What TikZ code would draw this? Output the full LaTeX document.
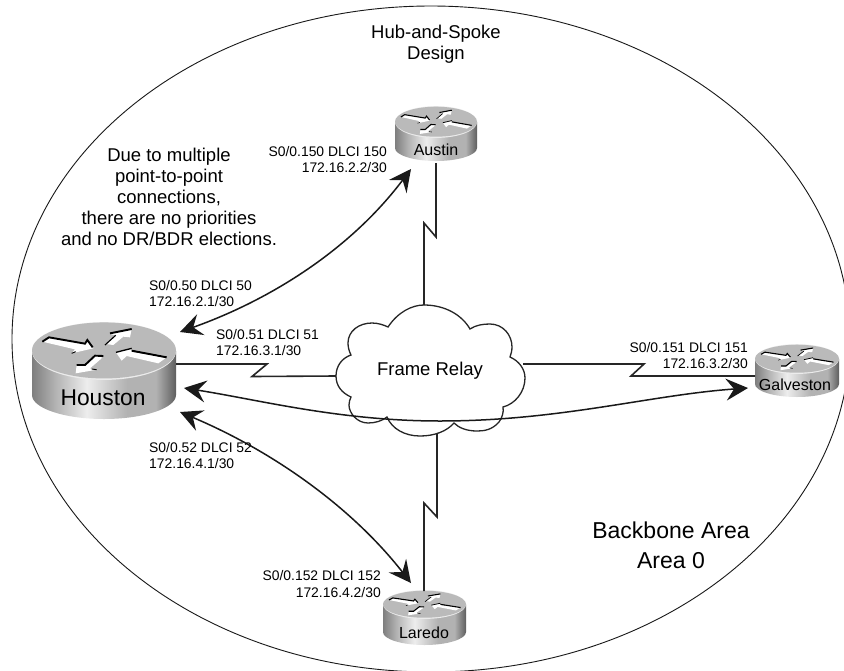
\documentclass[tikz,border=0pt]{standalone}
\usepackage{fontspec}
\setmainfont{Liberation Sans}
\usetikzlibrary{arrows.meta}
\definecolor{rA}{HTML}{7E7E7E}
\definecolor{rB}{HTML}{EDEDED}
\definecolor{rC}{HTML}{B2B2B2}
\definecolor{rD}{HTML}{5E5E5E}
\pgfdeclarehorizontalshading{routerbody}{100bp}{color(0bp)=(rA); color(25bp)=(rA); color(33bp)=(rC); color(44bp)=(rB); color(58bp)=(rC); color(68bp)=(rC); color(75bp)=(rD); color(100bp)=(rD)}
\tikzset{
  conn/.style={line width=1.6pt,black!85,line join=miter},
  biarrow/.style={line width=1.5pt,black!90,{Stealth[length=22pt,width=22pt,inset=8pt]}-{Stealth[length=22pt,width=22pt,inset=8pt]}},
  small/.style={font=\fontsize{13.9}{16.6}\selectfont,inner sep=0pt},
  mid/.style={font=\fontsize{18.5}{21.3}\selectfont,inner sep=0pt,align=center},
  rname/.style={font=\fontsize{16}{18}\selectfont,inner sep=0pt},
  cloudline/.style={line width=1.3pt,black!85,fill=white},
}
% #1 cx, #2 cy, #3 rx, #4 ry, #5 side height, #6 bottom ry
\newcommand{\routericon}[6]{%
  \pgfmathsetmacro{\hh}{#5/#4}
  \pgfmathsetmacro{\rr}{#6/#4}
  \begin{scope}[shift={(#1,#2)},x=#3pt,y=-#4pt]
    \path[shading=routerbody] (-1,0) -- (-1,\hh)
      .. controls (-1,\hh+.55*\rr) and (-.55,\hh+\rr) .. (0,\hh+\rr)
      .. controls (.55,\hh+\rr) and (1,\hh+.55*\rr) .. (1,\hh) -- (1,0) -- cycle;
    \path[fill=white!85!gray] (0,0) circle [x radius=#3pt,y radius=#4pt+0.9pt];
    \path[fill=black!27] (0,-.02) circle [x radius=#3pt,y radius=#4pt];
  \end{scope}
  \begin{scope}[shift={(#1,#2)},x=#3/216*1pt,y=-#4/84*1pt,
      shift={(-222,-93)}]
    \pgfmathsetmacro{\lw}{#3/72*1.9}
    % arrow 1
    \fill[white] (37,65) -- (55,52) -- (165,72) -- (172,60) -- (190,85) -- (125,100) -- (135,88) -- cycle;
    \draw[black,line width=\lw pt] (37,65) -- (57,52) -- (165,71) -- (172,60) -- (188,82);
    \draw[black,line width=.5*\lw pt] (125,100) -- (137,95);
    % arrow 2
    \fill[white] (305,27) -- (240,42) -- (258,46) -- (228,72) -- (250,75) -- (280,50) -- (300,52) -- cycle;
    \draw[black,line width=\lw pt] (240,40) -- (305,27);
    \draw[black,line width=.6*\lw pt] (225,75) -- (257,46);
    % arrow 3
    \fill[white] (258,97) -- (300,85) -- (310,97) -- (410,112) -- (385,130) -- (290,108) -- (275,122) -- cycle;
    \draw[black,line width=\lw pt] (305,92) -- (410,112);
    \draw[black,line width=.7*\lw pt] (258,97) -- (305,85);
    % arrow 4
    \fill[white] (215,110) -- (195,108) -- (165,138) -- (140,135) -- (137,160) -- (195,150) -- (180,145) -- (215,115) -- cycle;
    \draw[black,line width=\lw pt] (140,135) -- (165,135) -- (195,107) -- (220,108);
    \draw[black,line width=.5*\lw pt] (185,147) -- (200,149);
  \end{scope}
}
\begin{document}
\begin{tikzpicture}[x=1pt,y=-1pt]
\useasboundingbox (0,0) rectangle (844,670);
\fill[white] (0,0) rectangle (844,670);
\begin{scope}
\clip (0,0) rectangle (844,670);
\draw[line width=.9pt,black!90] (431,339) circle [x radius=419pt,y radius=333pt];
\end{scope}

% cloud
\draw[cloudline] (388,327) .. controls (398,312) and (412,305) .. (424,305)
 .. controls (445,305) and (462,315) .. (470,329)
 .. controls (476,325) and (483,324) .. (490,324)
 .. controls (503,324) and (512,335) .. (512,347)
 .. controls (512,351) and (511,354) .. (510,357)
 .. controls (519,361) and (525,369) .. (525,378)
 .. controls (525,392) and (515,404) .. (503,407)
 .. controls (504,412) and (502,418) .. (499,422)
 .. controls (492,430) and (484,431) .. (477,431)
 .. controls (467,431) and (459,428) .. (454,423)
 .. controls (447,431) and (435,436) .. (420,436)
 .. controls (405,436) and (392,429) .. (387,417)
 .. controls (382,421) and (375,423) .. (368,423)
 .. controls (357,423) and (349,413) .. (349,405)
 .. controls (349,402) and (350,399) .. (351,397)
 .. controls (342,393) and (336,386) .. (336,376)
 .. controls (336,366) and (342,358) .. (351,355)
 .. controls (349,351) and (348,347) .. (348,343)
 .. controls (348,331) and (359,323) .. (372,323)
 .. controls (378,323) and (384,325) .. (388,327) -- cycle;
\node[mid] (frame) at (430,371) {Frame Relay};

% routers
\routericon{104}{351}{72}{28}{44}{24}
\routericon{436}{122}{41}{15}{26}{13}
\routericon{797}{359}{42}{14}{25}{13}
\routericon{424.5}{604.5}{41.5}{13.5}{27.5}{13}
\node[inner sep=0pt,font=\fontsize{22.8}{26}\selectfont] (houston) at (103,398) {Houston};
\node[rname] (austin) at (436,150) {Austin};
\node[rname] (galveston) at (795,385) {Galveston};
\node[rname] (laredo) at (424,633) {Laredo};

% connector ends
\coordinate (hE) at (176,364);
\coordinate (cW) at (336,376);
\coordinate (cE) at (523,364);
\coordinate (gW) at (755,376);
\coordinate (aS) at (436,163);
\coordinate (cN) at (424,305);
\coordinate (cS) at (437,434);
\coordinate (lN) at (424,591);
\coordinate (hA) at (180,332);
\coordinate (aT) at (411,169);
\coordinate (hG) at (184,388);
\coordinate (gT) at (748,388);
\coordinate (hL) at (180,412);
\coordinate (lT) at (411,583);

\draw[conn] (hE) -- (267,364) -- (252,376.5) -- (cW);
\draw[conn] (cE) -- (644,364) -- (631,376) -- (gW);
\draw[conn] (aS) -- (436,237) -- (424,223) -- (cN);
\draw[conn] (cS) -- (437,517) -- (424,503) -- (lN);

\draw[biarrow] (hA) .. controls (270,300) and (350,250) .. (aT);
\draw[biarrow] (hG) .. controls (260,400) and (340,421) .. (440,421)
                    .. controls (560,421) and (650,395) .. (gT);
\draw[biarrow] (hL) .. controls (270,450) and (350,505) .. (lT);

% labels
\node[small,align=left,anchor=west] (l1) at (149,293.5) {S0/0.50 DLCI 50\\172.16.2.1/30};
\node[small,align=left,anchor=west] (l2) at (216,342.5) {S0/0.51 DLCI 51\\172.16.3.1/30};
\node[small,align=left,anchor=west] (l3) at (149,455.5) {S0/0.52 DLCI 52\\172.16.4.1/30};
\node[small,align=right,anchor=east] (l4) at (387,159.5) {S0/0.150 DLCI 150\\172.16.2.2/30};
\node[small,align=right,anchor=east] (l5) at (748,355.5) {S0/0.151 DLCI 151\\172.16.3.2/30};
\node[small,align=right,anchor=east] (l6) at (381,584) {S0/0.152 DLCI 152\\172.16.4.2/30};

\node[mid] (title) at (436,44) {Hub-and-Spoke\\Design};
\node[mid,font=\fontsize{18.5}{21}\selectfont] (note) at (169,197) {Due to multiple\\point-to-point\\connections,\\there are no priorities\\and no DR/BDR elections.};
\node[inner sep=0pt,align=center,font=\fontsize{23}{30}\selectfont] (area) at (671,545) {Backbone Area\\Area 0};
\end{tikzpicture}
\end{document}
